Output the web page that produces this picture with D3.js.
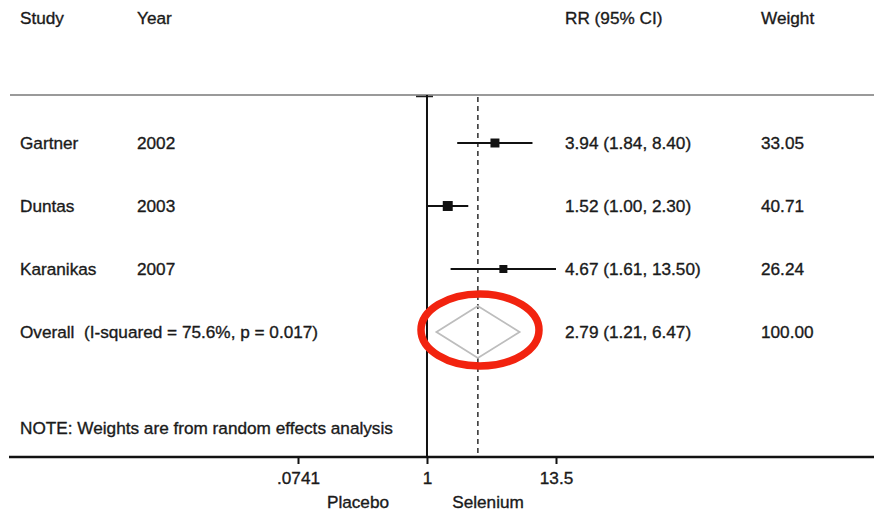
<!DOCTYPE html>
<html>
<head>
<meta charset="utf-8">
<script src="https://cdn.jsdelivr.net/npm/d3@7"></script>
<style>
  body { margin:0; background:#fff; }
  text { font-family: "Liberation Sans", Arial, sans-serif; fill:#1a1a1a; stroke:#1a1a1a; stroke-width:0.35px; white-space:pre; }
</style>
</head>
<body>
<svg class="chart"></svg>
<script>
var W = 874, H = 512;

// data
var studies = ["Gartner", "Duntas", "Karanikas"];
var years = ["2002", "2003", "2007"];
var rr = [3.94, 1.52, 4.67];
var lo = [1.84, 1.00, 1.61];
var hi = [8.40, 2.30, 13.50];
var weights = [33.05, 40.71, 26.24];
var ciText = ["3.94 (1.84, 8.40)", "1.52 (1.00, 2.30)", "4.67 (1.61, 13.50)"];
var wText = ["33.05", "40.71", "26.24"];
var overall = [2.79, 1.21, 6.47];
var overallLabel = "Overall  (I-squared = 75.6%, p = 0.017)";
var overallCi = "2.79 (1.21, 6.47)";
var overallW = "100.00";
var tickVals = [0.0741, 1, 13.5];
var tickLabels = [".0741", "1", "13.5"];

var svg = d3.select(".chart").attr("width", W).attr("height", H);

var x = d3.scaleLog().domain([0.0741, 13.5]).range([298, 556]);
var y = d3.scalePoint().domain([0, 1, 2, 3]).range([143, 332]);

var fs = "17.2px";

// headers
var heads = [["Study", 20], ["Year", 137], ["RR (95% CI)", 565], ["Weight", 761]];
svg.selectAll("text.head").data(heads).enter().append("text")
  .attr("class", "head")
  .attr("x", function(d){ return d[1]; })
  .attr("y", 24)
  .style("font-size", fs)
  .text(function(d){ return d[0]; });

// top grey rule
svg.append("line").attr("x1", 10).attr("x2", W).attr("y1", 95).attr("y2", 95)
  .attr("stroke", "#9a9a9a").attr("stroke-width", 2);
svg.append("line").attr("x1", 416).attr("x2", 433).attr("y1", 96.5).attr("y2", 96.5)
  .attr("stroke", "#222").attr("stroke-width", 1.5);

// null line
svg.append("line").attr("x1", x(1)).attr("x2", x(1)).attr("y1", 95).attr("y2", 457)
  .attr("stroke", "#111").attr("stroke-width", 2);

// overall dashed line
svg.append("line").attr("x1", x(overall[0])).attr("x2", x(overall[0])).attr("y1", 97).attr("y2", 457)
  .attr("stroke", "#444").attr("stroke-width", 1.7).attr("stroke-dasharray", "5,4");

// study rows
var rows = svg.selectAll("g.row").data(studies).enter().append("g").attr("class", "row");
rows.append("text").attr("x", 20).attr("y", function(d, i){ return y(i) + 6; })
  .style("font-size", fs).text(function(d){ return d; });
rows.append("text").attr("x", 137).attr("y", function(d, i){ return y(i) + 6; })
  .style("font-size", fs).text(function(d, i){ return years[i]; });
rows.append("text").attr("x", 565).attr("y", function(d, i){ return y(i) + 6; })
  .style("font-size", fs).text(function(d, i){ return ciText[i]; });
rows.append("text").attr("x", 761).attr("y", function(d, i){ return y(i) + 6; })
  .style("font-size", fs).text(function(d, i){ return wText[i]; });
rows.append("line")
  .attr("x1", function(d, i){ return x(lo[i]); })
  .attr("x2", function(d, i){ return x(hi[i]); })
  .attr("y1", function(d, i){ return y(i); })
  .attr("y2", function(d, i){ return y(i); })
  .attr("stroke", "#111").attr("stroke-width", 2.2);
rows.append("rect")
  .attr("x", function(d, i){ return x(rr[i]) - 0.78 * Math.sqrt(weights[i]); })
  .attr("y", function(d, i){ return y(i) - 0.78 * Math.sqrt(weights[i]); })
  .attr("width", function(d, i){ return 1.56 * Math.sqrt(weights[i]); })
  .attr("height", function(d, i){ return 1.56 * Math.sqrt(weights[i]); })
  .attr("fill", "#111");

// overall row
var yo = y(3);
svg.append("text").attr("x", 20).attr("y", yo + 6).style("font-size", fs).text(overallLabel);
svg.append("text").attr("x", 565).attr("y", yo + 6).style("font-size", fs).text(overallCi);
svg.append("text").attr("x", 761).attr("y", yo + 6).style("font-size", fs).text(overallW);
var dia = [[x(overall[1]), yo], [x(overall[0]), yo - 26], [x(overall[2]), yo], [x(overall[0]), yo + 26]];
svg.append("polygon").attr("points", dia.map(function(p){ return p.join(","); }).join(" "))
  .attr("fill", "none").attr("stroke", "#bdbdbd").attr("stroke-width", 1.8);

// red annotation ellipse
svg.append("ellipse").attr("cx", 480).attr("cy", 330).attr("rx", 59).attr("ry", 36)
  .attr("fill", "none").attr("stroke", "#f2230f").attr("stroke-width", 7.5);

// note
svg.append("text").attr("x", 20).attr("y", 434).style("font-size", fs)
  .text("NOTE: Weights are from random effects analysis");

// x axis
svg.append("line").attr("x1", 9).attr("x2", W).attr("y1", 457).attr("y2", 457)
  .attr("stroke", "#111").attr("stroke-width", 2.5);
var ax = svg.append("g").attr("transform", "translate(0,457)")
  .call(d3.axisBottom(x).tickValues(tickVals)
    .tickFormat(function(d, i){ return tickLabels[i]; }).tickSize(7).tickPadding(8));
ax.select(".domain").remove();
ax.selectAll("line").attr("stroke", "#111").attr("stroke-width", 2);
ax.selectAll("text").style("font-size", fs).style("font-family", "Liberation Sans, Arial, sans-serif")
  .attr("fill", "#1a1a1a");

svg.append("text").attr("x", 358).attr("y", 508).attr("text-anchor", "middle")
  .style("font-size", fs).text("Placebo");
svg.append("text").attr("x", 488).attr("y", 508).attr("text-anchor", "middle")
  .style("font-size", fs).text("Selenium");
</script>
</body>
</html>
